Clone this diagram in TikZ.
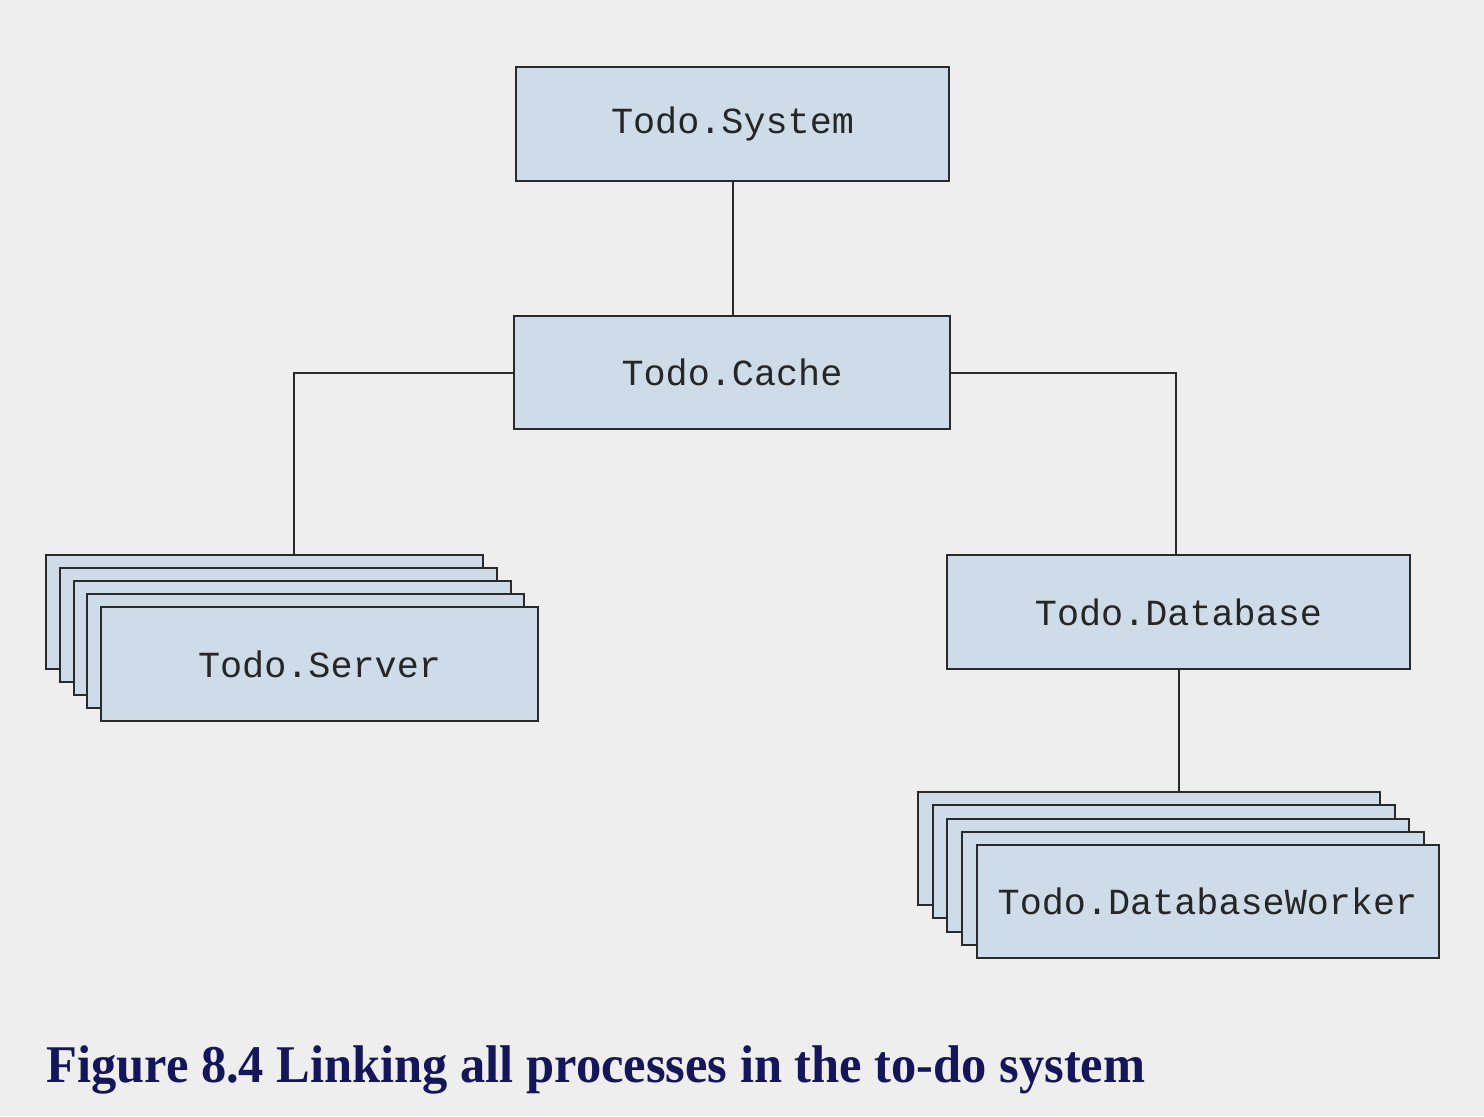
\documentclass[tikz,border=0pt]{standalone}
\usepackage{fontspec}
\setmainfont{Liberation Serif}
\newfontfamily\boxfont{Liberation Mono}
\usetikzlibrary{calc}
\definecolor{bgc}{HTML}{EEEEEE}
\definecolor{boxfill}{HTML}{CDDCE8}
\definecolor{boxline}{HTML}{2A2A2A}
\definecolor{capc}{HTML}{15155A}
\tikzset{
  pbox/.style={draw=boxline, fill=boxfill, line width=1pt, inner sep=0pt,
    font=\boxfont\fontsize{18.4}{20}\selectfont, text=black!85},
  link/.style={draw=boxline, line width=1pt}
}
\begin{document}
\begin{tikzpicture}[x=0.5pt,y=-0.5pt]
\fill[bgc] (0,0) rectangle (1484,1116);
\useasboundingbox (0,0) rectangle (1484,1116);
\node[pbox, minimum width=216.5pt, minimum height=57pt] (sys) at (732.5,124) {Todo.System};
\node[pbox, minimum width=218pt, minimum height=56.5pt] (cache) at (732,372.5) {Todo.Cache};
\node[pbox, minimum width=231.5pt, minimum height=57pt] (db) at (1178.5,612) {Todo.Database};
% server stack
\foreach \i in {1,...,4}{
  \node[pbox, minimum width=218.5pt, minimum height=57pt] (srv\i) at ({264.5+(\i-1)*13.75},{612+(\i-1)*13}) {};
}
\node[pbox, minimum width=218.5pt, minimum height=57pt] (srv5) at (319.5,664) {Todo.Server};
% worker stack
\foreach \i in {1,...,4}{
  \node[pbox, minimum width=231pt, minimum height=56.5pt] (wk\i) at ({1149+(\i-1)*14.625},{848.5+(\i-1)*13.25}) {};
}
\node[pbox, minimum width=231pt, minimum height=56.5pt] (wk5) at (1207.5,901.5) {Todo.DatabaseWorker};
% connectors
\draw[link] (sys.south) -- (sys.south |- cache.north);
\draw[link] (cache.west) -| ([xshift=14.75pt]srv1.north);
\draw[link] (cache.east) -| ([xshift=-1.25pt]db.north);
\draw[link] (db.south) -- (db.south |- wk1.north);
% caption
\node[anchor=base west, inner sep=0pt, text=capc] (cap) at (46,1082)
  {\resizebox{549.5pt}{\height}{\fontsize{26.5}{30}\selectfont\bfseries Figure 8.4 Linking all processes in the to-do system}};
\end{tikzpicture}
\end{document}
